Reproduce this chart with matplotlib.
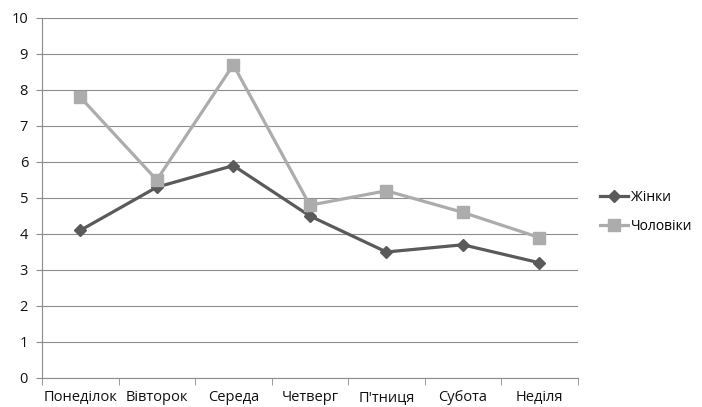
import matplotlib.pyplot as plt
import numpy as np

plt.rcParams['font.family'] = ['Open Sans', 'DejaVu Sans']

# дні тижня
days = ["Понеділок", "Вівторок", "Середа", "Четверг", "П'тниця", "Субота", "Неділя"]

# значення
women = [4.1, 5.3, 5.9, 4.5, 3.5, 3.7, 3.2]
men = [7.8, 5.5, 8.7, 4.8, 5.2, 4.6, 3.9]

fig = plt.figure(figsize=(7.02, 4.07), dpi=100)
ax = fig.add_axes([0.0598, 0.0713, 0.7632, 0.8845])

x = np.arange(len(days))

ax.plot(x, women, color="#5a5a5a", linewidth=2.3, marker="D", markersize=6.5,
        label="Жінки", zorder=3)
ax.plot(x, men, color="#acacac", linewidth=2.3, marker="s", markersize=8,
        label="Чоловіки", zorder=3)

ax.set_xlim(-0.5, len(days) - 0.5)
ax.set_ylim(0, 10)
ax.set_yticks(range(0, 11))
ax.yaxis.grid(True, color="#8c8c8c", linewidth=0.8)
ax.set_axisbelow(True)

# підписи по центру, риски між категоріями
ax.set_xticks(x)
ax.set_xticklabels(days, fontsize=10.5, color="#111111")
ax.tick_params(axis='x', which='major', length=0, pad=9)
ax.set_xticks(np.arange(-0.5, len(days)), minor=True)
ax.tick_params(axis='x', which='minor', length=5, color="#8c8c8c", direction='out')
ax.tick_params(axis='y', length=4, color="#8c8c8c", labelsize=10.5,
               labelcolor="#111111", pad=6)

for s in ["top", "right"]:
    ax.spines[s].set_visible(False)
for s in ["left", "bottom"]:
    ax.spines[s].set_color("#8c8c8c")
    ax.spines[s].set_linewidth(0.8)

fig.legend(loc="center left", bbox_to_anchor=(0.843, 0.48), frameon=False,
           fontsize=10, handlelength=2.0, handletextpad=0.2, labelspacing=1.0,
           borderaxespad=0.2)

plt.savefig("out.png", dpi=100)
